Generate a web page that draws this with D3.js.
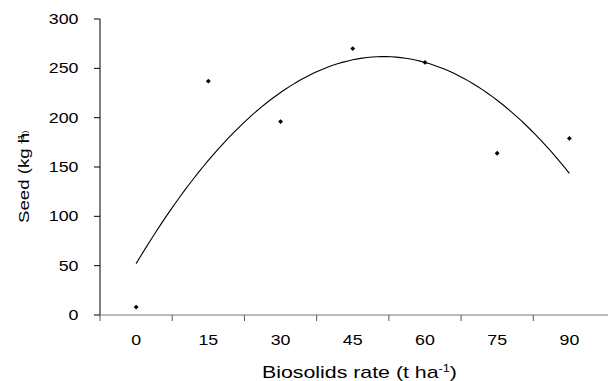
<!DOCTYPE html>
<html>
<head>
<meta charset="utf-8">
<script src="https://cdn.jsdelivr.net/npm/d3@7"></script>
<style>
  body { margin: 0; background: #fff; }
  svg { display: block; font-family: "Liberation Sans", Arial, sans-serif; }
</style>
</head>
<body>
<svg id="chart" width="608" height="381"></svg>
<script>
// biosolids rate categories (t ha-1) and seed yield (kg ha-1)
const rates = [0, 15, 30, 45, 60, 75, 90];
const seed = [8, 237, 196, 270, 256, 164, 179];
const yTicks = [0, 50, 100, 150, 200, 250, 300];

const margin = { top: 19, left: 100, bottom: 66, right: 2.5 };
const width = 608, height = 381;
const stretch = 1.27; // the original font is wide along the baseline

const svg = d3.select("#chart");

let x = d3.scaleBand()
    .domain(rates)
    .range([margin.left, width - margin.right]);
// numeric x for the points and the trend line, on band centres
let xNum = d3.scaleLinear()
    .domain([0, 90])
    .range([x(0) + x.bandwidth() / 2, x(90) + x.bandwidth() / 2]);
let y = d3.scaleLinear()
    .domain([0, 300])
    .range([height - margin.bottom, margin.top]);

// helper: text stretched along its baseline
function label(g, tx, ty, str, size, anchor, rot = 0) {
    return g.append("text")
        .attr("transform", `translate(${tx},${ty}) rotate(${rot}) scale(${stretch},1)`)
        .attr("font-size", size)
        .attr("text-anchor", anchor)
        .attr("fill", "#000")
        .text(str);
}

// y axis
svg.append("line")
    .attr("x1", margin.left).attr("x2", margin.left)
    .attr("y1", y(300)).attr("y2", y(0))
    .attr("stroke", "#000").attr("stroke-width", 1);
svg.append("g").selectAll("line")
    .data(yTicks)
    .join("line")
    .attr("x1", margin.left - 6).attr("x2", margin.left)
    .attr("y1", d => y(d)).attr("y2", d => y(d))
    .attr("stroke", "#000");
const yLab = svg.append("g");
yTicks.forEach(t => label(yLab, 78.5, y(t) + 5, t, 14, "end"));

// x axis
svg.append("line")
    .attr("x1", margin.left).attr("x2", width)
    .attr("y1", y(0)).attr("y2", y(0))
    .attr("stroke", "#777").attr("stroke-width", 1);
svg.append("g").selectAll("line")
    .data(rates)
    .join("line")
    .attr("x1", d => x(d)).attr("x2", d => x(d))
    .attr("y1", y(0)).attr("y2", y(0) + 6)
    .attr("stroke", "#555");
const xLab = svg.append("g");
rates.forEach(r => label(xLab, x(r) + x.bandwidth() / 2, 345, r, 14, "middle"));

// axis titles
let xt = label(svg, 262, 378, "Biosolids rate (t ha", 16.8, "start");
xt.append("tspan").attr("dy", -6).attr("font-size", 10).text("-1");
xt.append("tspan").attr("dy", 6).text(")");

let yt = label(svg, 28.5, 223, "Seed (kg h", 14.7, "start", -90);
yt.append("tspan").attr("dx", -9).attr("dy", -5).attr("font-size", 9.5).text("-1");
yt.append("tspan").attr("dy", 3).attr("font-size", 7).text(")");

// quadratic least-squares trend line from the data
function quadFit(xs, ys) {
    let n = xs.length, S = [0, 0, 0, 0, 0], T = [0, 0, 0];
    for (let i = 0; i < n; i++) {
        for (let k = 0; k < 5; k++) S[k] += Math.pow(xs[i], k);
        for (let k = 0; k < 3; k++) T[k] += ys[i] * Math.pow(xs[i], k);
    }
    let M = [[S[0], S[1], S[2], T[0]], [S[1], S[2], S[3], T[1]], [S[2], S[3], S[4], T[2]]];
    for (let c = 0; c < 3; c++) {
        for (let r = c + 1; r < 3; r++) {
            let f = M[r][c] / M[c][c];
            for (let k = c; k < 4; k++) M[r][k] -= f * M[c][k];
        }
    }
    let coef = [0, 0, 0];
    for (let r = 2; r >= 0; r--) {
        let s = M[r][3];
        for (let k = r + 1; k < 3; k++) s -= M[r][k] * coef[k];
        coef[r] = s / M[r][r];
    }
    return coef;
}
const coef = quadFit(rates, seed);
const trend = d3.range(0, 90.01, 1).map(v => [v, coef[0] + coef[1] * v + coef[2] * v * v]);

svg.append("path")
    .datum(trend)
    .attr("fill", "none")
    .attr("stroke", "#000")
    .attr("stroke-width", 1.1)
    .attr("d", d3.line().x(d => xNum(d[0])).y(d => y(d[1])));

// diamond markers
svg.append("g").selectAll("path")
    .data(rates.map((r, i) => [r, seed[i]]))
    .join("path")
    .attr("d", d3.symbol(d3.symbolSquare, 12))
    .attr("transform", d => `translate(${xNum(d[0])},${y(d[1])}) rotate(45)`)
    .attr("fill", "#000");
</script>
</body>
</html>
